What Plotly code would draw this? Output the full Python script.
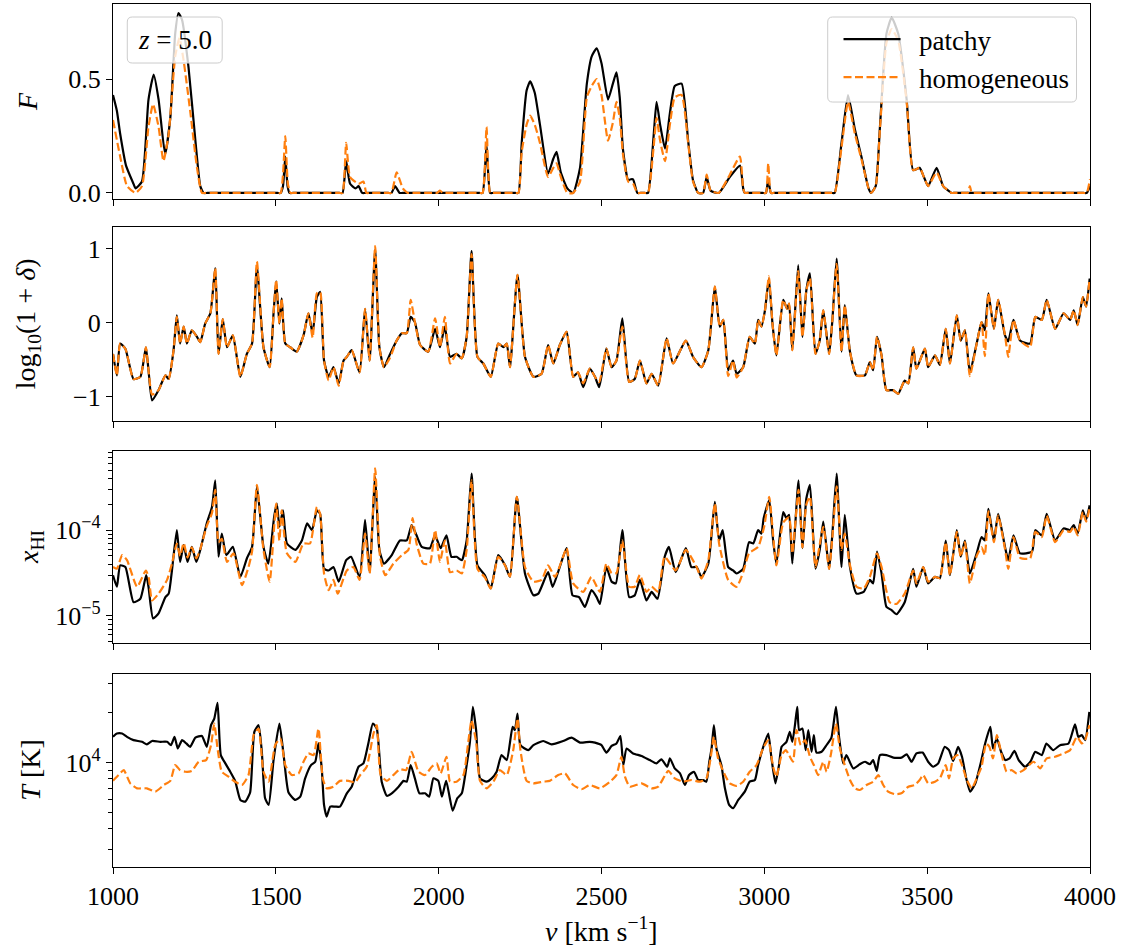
import plotly.graph_objects as go

# ---------------- data ----------------
# Panel 1: transmitted flux F
v_F_patchy = [1000,1012,1022,1040,1063,1069,1089,1109,1125,1140,1160,1176,1191,1201,1212,1232,1253,1268,1278,1290,
              1505,1515,1522,1529,1536,1542,1552,1695,1705,1716,1728,1745,1754,1765,1775,1845,1855,1866,1880,1890,
              2125,2135,2147,2158,2168,
              2235,2245,2255,2270,2281,2295,2311,2336,2352,2362,2375,2395,2413,2434,2455,2470,2485,2500,2520,2535,2546,
              2556,2566,2582,2590,2597,2610,2620,2633,2643,2660,2669,2680,2695,2710,2725,2746,2766,2781,2797,2812,2823,2835,
              2860,2894,2925,2935,2940,2950,2995,3005,3012,3020,3030,3206,3216,3237,3257,3278,3298,3320,3328,3342,3355,3375,3391,3411,
              3437,3457,3477,3490,3503,3529,3549,3575,3585,3980,3990,4000]
F_patchy = [0.43,0.36,0.26,0.12,0.04,0.02,0.05,0.41,0.52,0.41,0.17,0.33,0.70,0.79,0.76,0.55,0.23,0.03,0.0,0.0,
            0.0,0.0,0.03,0.16,0.03,0.0,0.0,0.0,0.0,0.14,0.04,0.02,0.03,0.0,0.0,0.0,0.0,0.03,0.0,0.0,
            0.0,0.0,0.21,0.0,0.0,
            0.0,0.0,0.22,0.45,0.49,0.44,0.30,0.085,0.15,0.18,0.09,0.02,0.0,0.11,0.48,0.60,0.635,0.57,0.41,0.48,0.53,
            0.42,0.19,0.056,0.06,0.06,0.0,0.0,0.0,0.0,0.25,0.40,0.30,0.195,0.35,0.47,0.48,0.23,0.056,0.0,0.0,0.07,0.01,
            0.0,0.07,0.12,0.02,0.0,0.0,0.0,0.0,0.06,0.0,0.0,0.0,0.0,0.22,0.43,0.28,0.16,0.02,0.0,0.03,0.29,0.70,0.77,0.70,
            0.41,0.10,0.11,0.07,0.03,0.11,0.03,0.0,0.0,0.0,0.0,0.03]
v_F_homog = [1000,1022,1043,1069,1089,1109,1123,1140,1155,1171,1191,1204,1217,1237,1258,1273,1285,
             1505,1515,1522,1529,1537,1545,1555,1695,1705,1716,1728,1754,1769,1778,1788,1845,1855,1871,1890,1905,1915,
             1985,1995,2004,2012,2022,2125,2135,2147,2158,2168,
             2235,2245,2255,2270,2281,2295,2311,2336,2352,2362,2375,2395,2413,2434,2455,2470,2485,2500,2520,2535,2546,
             2556,2566,2582,2597,2610,2620,2633,2643,2660,2669,2680,2695,2710,2725,2746,2766,2781,2797,2812,2823,2835,
             2860,2894,2925,2935,2940,2950,2995,3005,3012,3020,3030,3206,3216,3237,3257,3278,3298,3320,3328,3342,3355,3375,3391,3411,
             3437,3457,3477,3490,3503,3529,3549,3575,3585,3618,3625,3631,3637,3645,3980,3990,4000]
F_homog = [0.32,0.16,0.03,0.0,0.03,0.29,0.39,0.29,0.14,0.26,0.60,0.68,0.58,0.36,0.11,0.0,0.0,
           0.0,0.0,0.08,0.25,0.04,0.0,0.0,0.0,0.0,0.22,0.07,0.04,0.05,0.0,0.0,0.0,0.0,0.09,0.02,0.0,0.0,
           0.0,0.0,0.01,0.0,0.0,0.0,0.0,0.29,0.0,0.0,
           0.0,0.0,0.18,0.30,0.34,0.30,0.22,0.07,0.11,0.13,0.07,0.0,0.0,0.05,0.42,0.47,0.50,0.43,0.23,0.31,0.40,
           0.33,0.17,0.05,0.04,0.0,0.0,0.0,0.0,0.20,0.33,0.23,0.14,0.30,0.42,0.43,0.22,0.05,0.0,0.0,0.08,0.01,
           0.0,0.08,0.16,0.02,0.0,0.0,0.0,0.0,0.13,0.0,0.0,0.0,0.0,0.20,0.40,0.26,0.15,0.02,0.0,0.03,0.28,0.66,0.72,0.67,
           0.40,0.10,0.11,0.07,0.03,0.09,0.03,0.0,0.0,0.0,0.0,0.03,0.0,0.0,0.0,0.0,0.06]

# Panel 2: log10(1+delta)
v_delta = [1000,1012,1022,1038,1063,1084,1101,1109,1120,1140,1161,1171,1186,1196,1206,1217,1227,1242,1258,1268,
           1283,1299,1314,1324,1337,1350,1368,1391,1411,1427,1442,1462,1481,1493,1501,1511,1518,1529,1544,1564,
           1585,1600,1613,1626,1636,1648,1662,1677,1693,1708,1718,1733,1757,1774,1788,1805,1818,1832,1851,1871,
           1887,1902,1914,1927,1943,1968,1989,2004,2019,2035,2055,2071,2086,2101,2119,2137,2160,2183,2199,2209,
           2219,2242,2265,2291,2316,2336,2352,2372,2393,2413,2428,2444,2464,2480,2493,2515,2531,2546,2564,2585,
           2602,2618,2638,2654,2674,2700,2720,2759,2781,2807,2828,2848,2863,2874,2889,2904,2915,2935,2955,2971,
           2981,2991,3002,3014,3025,3037,3058,3070,3076,3086,3104,3117,3129,3140,3157,3170,3181,3199,3209,3222,
           3237,3247,3263,3283,3309,3324,3334,3346,3360,3375,3395,3411,3431,3442,3457,3467,3493,3503,3524,3539,
           3557,3570,3591,3603,3616,3631,3652,3667,3677,3688,3705,3718,3739,3749,3765,3785,3816,3832,3852,3867,
           3893,3919,3939,3950,3962,3978,3988,3999]
delta_patchy = [-0.42,-0.71,-0.28,-0.35,-0.76,-0.73,-0.33,-0.64,-1.05,-0.91,-0.71,-0.76,-0.37,0.10,-0.28,-0.05,-0.28,-0.10,-0.19,-0.26,
                -0.01,0.13,0.74,-0.42,0.05,-0.33,-0.17,-0.73,-0.42,-0.28,0.76,-0.33,-0.60,0.13,0.56,-0.01,0.33,-0.28,-0.33,-0.39,
                -0.17,0.13,-0.14,0.35,0.42,-0.51,-0.73,-0.60,-0.82,-0.51,-0.46,-0.37,-0.67,0.19,-0.51,0.99,-0.33,-0.60,-0.42,-0.24,
                -0.14,-0.14,0.08,0.01,-0.30,-0.39,-0.08,-0.33,-0.05,-0.46,-0.42,-0.48,-0.19,0.97,-0.46,-0.55,-0.73,-0.28,-0.33,-0.28,
                -0.60,0.65,-0.46,-0.73,-0.69,-0.30,-0.55,-0.30,-0.12,-0.73,-0.67,-0.87,-0.62,-0.73,-0.87,-0.35,-0.60,-0.51,0.06,-0.80,
                -0.76,-0.51,-0.82,-0.69,-0.85,-0.21,-0.55,-0.24,-0.46,-0.60,-0.37,0.49,-0.05,0.04,-0.64,-0.51,-0.69,-0.60,-0.19,-0.28,
                0.04,-0.05,0.17,0.60,-0.01,-0.44,0.31,0.19,0.26,-0.37,0.78,-0.19,0.44,0.67,-0.42,-0.24,0.17,-0.42,0.04,0.87,
                -0.39,0.24,-0.39,-0.71,-0.71,-0.53,-0.64,-0.19,-0.44,-0.91,-0.91,-0.96,-0.78,-0.82,-0.33,-0.62,-0.35,-0.60,-0.44,-0.57,
                -0.08,-0.55,0.10,-0.24,-0.10,-0.67,-0.28,0.01,-0.10,0.40,-0.08,0.31,-0.17,-0.25,0.04,-0.24,-0.28,0.08,0.04,0.31,
                -0.08,0.13,0.04,0.17,-0.03,0.35,0.22,0.60]
delta_homog = [-0.42,-0.71,-0.28,-0.35,-0.76,-0.73,-0.33,-0.64,-0.97,-0.91,-0.71,-0.76,-0.37,0.08,-0.28,-0.05,-0.28,-0.10,-0.19,-0.26,
               -0.01,0.13,0.74,-0.42,0.05,-0.33,-0.17,-0.73,-0.42,-0.28,0.83,-0.33,-0.60,0.13,0.58,-0.01,0.33,-0.28,-0.33,-0.39,
               -0.17,0.13,-0.20,0.40,0.42,-0.51,-0.78,-0.60,-0.85,-0.51,-0.46,-0.37,-0.67,0.19,-0.51,1.04,-0.33,-0.60,-0.47,-0.24,
               -0.14,-0.14,0.31,0.01,-0.30,-0.39,0.06,-0.33,0.08,-0.55,-0.42,-0.48,-0.19,0.93,-0.46,-0.55,-0.73,-0.28,-0.33,-0.28,
               -0.60,0.65,-0.46,-0.73,-0.69,-0.30,-0.55,-0.30,-0.12,-0.73,-0.67,-0.82,-0.62,-0.73,-0.80,-0.35,-0.60,-0.51,-0.05,-0.80,
               -0.76,-0.51,-0.82,-0.69,-0.85,-0.21,-0.55,-0.24,-0.46,-0.60,-0.37,0.49,-0.05,0.04,-0.72,-0.51,-0.74,-0.60,-0.19,-0.28,
               0.04,-0.05,0.17,0.63,-0.01,-0.44,0.31,0.19,0.26,-0.37,0.70,-0.19,0.44,0.60,-0.42,-0.24,0.17,-0.42,0.04,0.80,
               -0.39,0.24,-0.39,-0.71,-0.71,-0.53,-0.64,-0.19,-0.44,-0.91,-0.91,-0.96,-0.78,-0.82,-0.33,-0.62,-0.35,-0.60,-0.44,-0.57,
               -0.08,-0.55,0.10,-0.24,-0.10,-0.72,-0.28,0.01,-0.45,0.40,-0.08,0.31,-0.17,-0.46,0.04,-0.24,-0.33,0.08,0.04,0.31,
               -0.08,0.13,0.04,0.17,-0.03,0.35,0.22,0.60]

# Panel 3: neutral fraction x_HI (stored as log10 values)
v_xHI_patchy = [1000,1012,1022,1038,1063,1084,1102,1109,1123,1140,1161,1171,1181,1196,1206,1217,1229,1242,1256,1268,
                1288,1304,1314,1324,1334,1348,1368,1391,1411,1427,1442,1462,1477,1495,1503,1511,1522,1534,1560,1580,
                1596,1611,1626,1636,1648,1662,1677,1693,1716,1731,1757,1774,1788,1805,1818,1832,1856,1881,1902,1917,
                1932,1948,1973,1989,2006,2024,2039,2055,2071,2086,2101,2119,2142,2160,2183,2204,2219,2240,2265,2291,
                2306,2336,2350,2370,2393,2411,2431,2449,2469,2485,2495,2515,2531,2544,2564,2585,2602,2618,2638,2654,
                2672,2694,2707,2728,2759,2776,2792,2807,2828,2848,2861,2872,2889,2904,2915,2935,2953,2966,2981,2991,
                2998,3015,3027,3037,3058,3068,3076,3086,3105,3117,3129,3140,3157,3170,3181,3199,3209,3222,3237,3247,
                3263,3283,3305,3324,3334,3346,3360,3375,3390,3406,3431,3457,3467,3488,3503,3524,3539,3557,3570,3591,
                3603,3616,3631,3652,3667,3677,3688,3705,3718,3739,3749,3765,3785,3822,3832,3852,3867,3893,3919,3939,
                3950,3962,3978,3988,3999]
log_xHI_patchy = [-4.525,-4.66,-4.41,-4.43,-4.84,-4.80,-4.525,-4.66,-5.03,-4.97,-4.78,-4.74,-4.47,-4.00,-4.37,-4.175,-4.37,-4.195,-4.37,-4.23,
                  -3.92,-3.73,-3.42,-4.31,-4.04,-4.29,-4.195,-4.545,-4.33,-4.195,-3.49,-4.195,-4.39,-3.84,-3.69,-3.96,-3.77,-4.155,-4.23,-4.12,
                  -3.92,-4.00,-3.77,-3.81,-4.45,-4.47,-4.43,-4.60,-4.35,-4.31,-4.545,-3.88,-4.49,-3.38,-4.23,-4.39,-4.29,-4.12,-4.12,-3.94,
                  -4.06,-4.195,-4.21,-4.06,-4.21,-4.06,-4.31,-4.31,-4.35,-4.12,-3.34,-4.41,-4.525,-4.68,-4.29,-4.41,-4.545,-3.61,-4.505,-4.76,
                  -4.74,-4.49,-4.66,-4.45,-4.21,-4.76,-4.78,-4.895,-4.70,-4.78,-4.86,-4.43,-4.60,-4.62,-4.00,-4.78,-4.76,-4.58,-4.82,-4.72,
                  -4.80,-4.31,-4.195,-4.49,-4.21,-4.43,-4.43,-4.545,-4.39,-3.67,-4.12,-4.00,-4.43,-4.47,-4.505,-4.45,-4.14,-4.155,-4.00,-4.04,
                  -3.86,-3.65,-4.12,-4.39,-3.79,-3.86,-3.82,-4.39,-3.42,-4.21,-3.63,-3.47,-4.45,-4.23,-3.90,-4.45,-4.04,-3.34,-4.43,-3.82,
                  -4.43,-4.74,-4.72,-4.58,-4.62,-4.25,-4.505,-4.895,-4.93,-4.98,-4.84,-4.45,-4.66,-4.43,-4.62,-4.545,-4.56,-4.12,-4.525,-4.00,
                  -4.31,-4.12,-4.505,-4.27,-4.08,-4.12,-3.75,-4.12,-3.81,-4.195,-4.35,-4.06,-4.27,-4.25,-4.00,-4.06,-3.81,-4.12,-3.98,-4.00,
                  -3.94,-4.04,-3.77,-3.88,-3.71]
v_xHI_homog = [1000,1012,1028,1043,1074,1101,1110,1120,1140,1166,1181,1196,1206,1217,1229,1242,1256,1268,1288,1304,
               1314,1324,1334,1350,1370,1396,1416,1427,1442,1462,1481,1495,1501,1511,1518,1534,1560,1585,1605,1626,
               1636,1648,1662,1677,1690,1718,1738,1757,1774,1788,1805,1820,1836,1861,1887,1907,1920,1932,1953,1973,
               1989,2004,2019,2035,2055,2071,2086,2101,2119,2142,2160,2183,2204,2219,2240,2265,2291,2316,2336,2357,
               2382,2393,2413,2444,2469,2495,2515,2531,2546,2564,2585,2602,2618,2638,2654,2674,2694,2728,2759,2792,
               2807,2828,2848,2861,2889,2915,2935,2953,2981,3000,3015,3037,3058,3076,3086,3105,3117,3129,3140,3157,
               3181,3199,3209,3222,3237,3247,3263,3283,3305,3324,3346,3360,3385,3406,3431,3457,3467,3488,3503,3524,
               3539,3557,3570,3591,3603,3616,3631,3652,3667,3677,3688,3705,3718,3739,3749,3765,3785,3816,3832,3852,
               3867,3893,3919,3939,3950,3962,3978,3988,3999]
log_xHI_homog = [-4.43,-4.45,-4.29,-4.35,-4.66,-4.47,-4.56,-4.82,-4.74,-4.58,-4.39,-4.155,-4.30,-4.15,-4.32,-4.20,-4.33,-4.22,-3.95,-3.80,
                 -3.53,-4.14,-4.10,-4.37,-4.27,-4.64,-4.43,-4.25,-3.47,-4.23,-4.60,-3.95,-3.69,-4.12,-3.77,-4.27,-4.37,-4.155,-4.155,-3.73,
                 -3.81,-4.505,-4.70,-4.58,-4.74,-4.47,-4.43,-4.58,-4.04,-4.505,-3.28,-4.31,-4.525,-4.39,-4.29,-4.23,-3.86,-4.155,-4.39,-4.39,
                 -4.00,-4.37,-4.12,-4.49,-4.47,-4.505,-4.23,-3.42,-4.45,-4.55,-4.68,-4.31,-4.41,-4.54,-3.61,-4.43,-4.60,-4.58,-4.41,-4.545,
                 -4.31,-4.21,-4.62,-4.72,-4.545,-4.72,-4.39,-4.50,-4.50,-4.12,-4.66,-4.66,-4.52,-4.72,-4.66,-4.72,-4.31,-4.47,-4.23,-4.43,
                 -4.565,-4.35,-3.69,-4.155,-4.58,-4.66,-4.49,-4.27,-4.195,-3.95,-3.61,-4.41,-3.91,-3.85,-4.27,-3.53,-4.20,-3.70,-3.61,-4.43,
                 -3.96,-4.45,-4.08,-3.49,-4.23,-4.04,-4.41,-4.66,-4.68,-4.545,-4.27,-4.43,-4.84,-4.86,-4.74,-4.47,-4.62,-4.43,-4.60,-4.545,
                 -4.56,-4.14,-4.525,-4.02,-4.31,-4.14,-4.62,-4.30,-4.20,-4.29,-3.78,-4.14,-3.83,-4.22,-4.45,-4.08,-4.32,-4.33,-4.02,-4.08,
                 -3.83,-4.14,-4.00,-4.02,-3.96,-4.06,-3.79,-3.90,-3.74]

# Panel 4: temperature T [K] (stored as log10 values)
v_T_patchy = [1000,1012,1028,1043,1063,1089,1104,1120,1145,1166,1178,1189,1199,1212,1225,1237,1253,1273,1288,1301,
              1311,1321,1331,1345,1360,1375,1391,1406,1421,1434,1447,1457,1467,1478,1493,1511,1524,1539,1560,1575,
              1590,1608,1621,1631,1641,1648,1656,1667,1682,1697,1718,1733,1754,1769,1784,1798,1810,1825,1841,1856,
              1877,1892,1902,1914,1927,1941,1958,1971,1984,1999,2010,2023,2043,2057,2071,2086,2096,2105,2115,2127,
              2147,2163,2178,2193,2209,2227,2234,2242,2251,2275,2291,2321,2347,2382,2408,2434,2464,2480,2500,2515,
              2531,2546,2558,2567,2577,2597,2623,2648,2669,2684,2702,2710,2725,2741,2756,2769,2784,2797,2812,2822,
              2831,2838,2845,2853,2868,2879,2892,2904,2920,2940,2955,2971,2981,2996,3012,3022,3034,3045,3053,3068,
              3078,3086,3094,3101,3107,3117,3127,3135,3145,3152,3160,3176,3191,3206,3220,3230,3242,3252,3273,3293,
              3309,3324,3334,3345,3355,3375,3396,3421,3437,3452,3467,3486,3503,3519,3534,3554,3567,3580,3595,3607,
              3620,3632,3648,3663,3678,3694,3702,3714,3727,3740,3753,3768,3781,3801,3817,3832,3852,3866,3887,3908,
              3934,3954,3964,3975,3985,3998]
log_T_patchy = [4.155,4.175,4.175,4.155,4.135,4.125,4.11,4.13,4.125,4.125,4.105,4.155,4.085,4.135,4.115,4.095,4.15,4.16,4.095,4.225,
                4.265,4.36,4.045,3.995,3.945,3.89,3.775,3.765,3.82,4.185,4.225,4.065,3.785,3.745,4.015,4.235,4.045,3.82,3.775,3.795,
                3.905,3.985,4.005,4.115,3.965,3.745,3.675,3.735,3.735,3.735,3.815,3.855,3.975,3.995,4.115,4.235,4.205,3.885,3.80,3.815,
                3.855,3.89,3.885,3.985,3.905,3.815,3.815,3.795,3.905,3.89,3.795,3.89,3.71,3.785,3.815,3.985,4.125,4.335,4.195,3.905,
                3.885,3.905,3.945,4.045,4.015,4.215,4.195,4.295,4.105,4.075,4.105,4.13,4.11,4.13,4.15,4.12,4.125,4.12,4.105,4.06,
                4.10,4.115,4.16,3.985,4.085,4.055,4.04,4.015,3.995,4.02,3.975,4.025,3.965,3.935,3.865,3.925,3.945,3.895,3.895,3.885,
                4.005,4.085,4.225,4.085,3.985,3.845,3.745,3.725,3.775,3.825,3.885,3.895,3.985,4.09,4.175,4.025,3.875,3.985,4.095,4.125,
                4.185,4.125,4.225,4.335,4.195,4.205,4.075,4.195,4.065,4.165,4.06,4.065,4.105,4.15,4.335,4.145,3.995,4.045,3.965,3.99,
                4.005,3.99,4.015,3.95,4.045,4.045,4.03,4.03,4.05,4.005,4.055,4.06,4.005,3.975,3.995,4.095,4.075,4.01,4.095,4.035,
                3.905,3.825,3.875,3.985,4.115,4.215,4.085,4.145,4.065,4.015,4.025,4.07,4.015,3.975,4.005,4.065,4.045,4.115,4.075,4.105,
                4.115,4.23,4.155,4.165,4.135,4.305]
v_T_homog = [1000,1017,1033,1053,1074,1104,1130,1156,1176,1191,1206,1222,1242,1263,1286,1301,1311,1321,1334,1355,
             1375,1396,1416,1432,1447,1462,1478,1498,1514,1529,1549,1570,1585,1600,1616,1631,1644,1656,1677,1697,
             1723,1743,1759,1779,1800,1810,1822,1841,1861,1881,1900,1917,1938,1958,1979,1994,2006,2024,2035,2055,
             2076,2091,2101,2115,2127,2147,2168,2188,2209,2229,2242,2251,2270,2291,2321,2341,2367,2388,2413,2439,
             2464,2495,2526,2546,2561,2572,2587,2623,2654,2674,2705,2725,2751,2776,2802,2822,2835,2845,2858,2879,
             2894,2915,2935,2955,2976,2996,3012,3027,3037,3053,3066,3076,3088,3099,3112,3125,3140,3152,3165,3181,
             3191,3204,3220,3232,3247,3263,3278,3293,3314,3334,3350,3365,3380,3401,3421,3442,3462,3477,3488,3503,
             3524,3539,3557,3567,3580,3593,3607,3622,3637,3652,3667,3681,3691,3702,3714,3729,3744,3759,3775,3796,
             3827,3847,3867,3893,3919,3939,3960,3975,3985,3998]
log_T_homog = [3.89,3.925,3.955,3.875,3.845,3.845,3.825,3.865,3.89,3.985,3.955,3.945,3.95,4.005,4.015,4.105,4.235,4.085,3.945,3.915,
               3.885,3.865,3.925,4.165,4.205,3.945,3.885,4.105,4.145,3.985,3.925,3.935,4.005,4.055,4.045,4.205,3.905,3.845,3.855,3.89,
               3.89,3.88,3.925,3.975,4.175,4.225,3.925,3.89,3.925,3.96,3.955,4.065,3.945,3.925,3.975,3.995,3.935,4.035,3.885,3.885,
               3.925,4.125,4.255,4.125,3.89,3.845,3.885,3.955,3.925,4.075,4.265,4.075,3.89,3.875,3.885,3.89,3.925,3.935,3.865,3.84,
               3.865,3.845,3.885,3.925,4.035,3.915,3.855,3.875,3.845,3.855,3.95,3.905,3.885,3.895,3.885,3.905,4.025,4.155,4.025,3.925,
               3.875,3.86,3.885,3.945,3.985,4.085,4.135,3.975,3.915,4.045,4.075,4.045,4.005,4.195,4.105,4.135,4.035,3.985,3.925,4.005,
               3.945,4.045,4.235,4.085,3.985,3.895,3.845,3.835,3.865,3.885,3.925,3.865,3.825,3.81,3.815,3.855,3.865,3.895,3.925,3.875,
               3.885,3.905,3.985,3.905,4.025,4.045,3.985,3.895,3.845,3.905,3.975,4.115,4.095,4.025,4.165,4.045,3.945,3.955,3.935,3.955,
               4.005,3.965,4.025,4.035,4.055,4.075,4.155,4.115,4.135,4.225]

labels = ["patchy", "homogeneous"]
x_ticks = [1000, 1500, 2000, 2500, 3000, 3500, 4000]
F_ticks = [0.0, 0.5]
delta_ticks = [-1, 0, 1]
redshift_label = "<i>z</i> = 5.0"

# ---------------- figure ----------------
FONT = "Liberation Serif"
FS = 26
TFS = 28
BLACK = "black"
ORANGE = "#ff7f0e"

xHI_patchy = [10 ** v for v in log_xHI_patchy]
xHI_homog = [10 ** v for v in log_xHI_homog]
T_patchy = [10 ** v for v in log_T_patchy]
T_homog = [10 ** v for v in log_T_homog]

fig = go.Figure()

panels = [
    (v_F_patchy, F_patchy, v_F_homog, F_homog, "y"),
    (v_delta, delta_patchy, v_delta, delta_homog, "y2"),
    (v_xHI_patchy, xHI_patchy, v_xHI_homog, xHI_homog, "y3"),
    (v_T_patchy, T_patchy, v_T_homog, T_homog, "y4"),
]
for i, (vp, yp, vh, yh, ya) in enumerate(panels):
    xa = "x" if i == 0 else "x%d" % (i + 1)
    fig.add_trace(go.Scatter(x=vp, y=yp, mode="lines", xaxis=xa, yaxis=ya,
                             line=dict(color=BLACK, width=2.2, shape="spline", smoothing=0.5),
                             name="\u2002" + labels[0], showlegend=(i == 0)))
    fig.add_trace(go.Scatter(x=vh, y=yh, mode="lines", xaxis=xa, yaxis=ya,
                             line=dict(color=ORANGE, width=2.2, dash="8px,3.5px", shape="spline", smoothing=0.5),
                             name="\u2002" + labels[1], showlegend=(i == 0)))

# pixel geometry
L, R, T, B = 112.7, 1090.5, 4, 866.7
W, H = 1132, 950
ph = B - T
pw = R - L
def ydom(top, bot):
    return [(B - bot) / ph, (B - top) / ph]

doms = [ydom(4, 199), ydom(226.7, 421), ydom(450.7, 642.3), ydom(673.3, 866.7)]

axis_common = dict(showline=True, linecolor="black", linewidth=1.3, mirror=True,
                   ticks="outside", ticklen=6, tickwidth=1.3, tickcolor="black",
                   showgrid=False, zeroline=False,
                   tickfont=dict(family=FONT, size=FS, color="black"))

for i in range(4):
    key = "xaxis" if i == 0 else "xaxis%d" % (i + 1)
    fig.layout[key] = dict(axis_common, range=[1000, 4000], tickvals=x_ticks,
                           showticklabels=(i == 3), anchor="y" if i == 0 else "y%d" % (i + 1),
                           matches=None if i == 0 else "x")

fig.layout.yaxis = dict(axis_common, domain=doms[0], range=[-0.027, 0.83], tickvals=F_ticks,
                        ticktext=["0.0", "0.5"], anchor="x")
fig.layout.yaxis2 = dict(axis_common, domain=doms[1], range=[-1.33, 1.30], tickvals=delta_ticks,
                         ticktext=["\u22121", "0", "1"], anchor="x2")
minor_x = [k * 1e-6 for k in range(5, 10)] + [k * 1e-5 for k in range(2, 10)] + [k * 1e-4 for k in range(2, 9)]
fig.layout.yaxis3 = dict(axis_common, domain=doms[2], type="log", range=[-5.31, -3.075],
                         tickvals=[1e-5, 1e-4], ticktext=["10<sup>\u22125</sup>", "10<sup>\u22124</sup>"],
                         minor=dict(tickvals=minor_x, ticks="outside", ticklen=3.5, tickwidth=1, tickcolor="black"),
                         anchor="x3")
minor_T = [3000, 4000, 5000, 6000, 7000, 8000, 9000, 20000, 30000]
fig.layout.yaxis4 = dict(axis_common, domain=doms[3], type="log", range=[3.3715, 4.536],
                         tickvals=[1e4], ticktext=["10<sup>4</sup>"],
                         minor=dict(tickvals=minor_T, ticks="outside", ticklen=3.5, tickwidth=1, tickcolor="black"),
                         anchor="x4")

def px2paper_x(px):
    return (px - L) / pw

def px2paper_y(py):
    return (B - py) / ph

def rounded_box(x0, y0, x1, y1, r=5):
    # pixel box -> paper-coordinate rounded rectangle path
    X0, X1 = px2paper_x(x0), px2paper_x(x1)
    Yt, Yb = px2paper_y(y0), px2paper_y(y1)
    rx, ry = r / pw, r / ph
    return (f"M{X0+rx},{Yt} L{X1-rx},{Yt} Q{X1},{Yt} {X1},{Yt-ry} "
            f"L{X1},{Yb+ry} Q{X1},{Yb} {X1-rx},{Yb} L{X0+rx},{Yb} Q{X0},{Yb} {X0},{Yb+ry} "
            f"L{X0},{Yt-ry} Q{X0},{Yt} {X0+rx},{Yt} Z")

shapes = [
    dict(type="path", xref="paper", yref="paper", path=rounded_box(127, 17, 222, 63), layer="above",
         fillcolor="rgba(255,255,255,0.8)", line=dict(color="#cccccc", width=1)),
    dict(type="path", xref="paper", yref="paper", path=rounded_box(828, 17, 1077, 102), layer="above",
         fillcolor="rgba(255,255,255,0.8)", line=dict(color="#cccccc", width=1)),
]

annotations = []
ytitles = ["<i>F</i>", "log<sub>10</sub>(1 + <i>\u03b4</i>)", "<i>x</i><sub>HI</sub>", "<i>T</i> [K]"]
ytitle_x = [27, 28, 30, 30]
for i, t in enumerate(ytitles):
    yref = "y domain" if i == 0 else "y%d domain" % (i + 1)
    annotations.append(dict(text=t, xref="paper", yref=yref, x=px2paper_x(ytitle_x[i]), y=0.5,
                            xanchor="center", yanchor="middle", textangle=-90, showarrow=False,
                            font=dict(family=FONT, size=TFS, color="black")))
annotations.append(dict(text="<i>v</i> [km s<sup>\u22121</sup>]", xref="paper", yref="paper",
                        x=0.5, y=px2paper_y(929), xanchor="center", yanchor="middle", showarrow=False,
                        font=dict(family=FONT, size=TFS, color="black")))
annotations.append(dict(text=redshift_label, xref="paper", yref="paper",
                        x=px2paper_x(174.5), y=px2paper_y(40), xanchor="center", yanchor="middle", showarrow=False,
                        font=dict(family=FONT, size=FS + 1, color="black")))

fig.update_layout(
    width=W, height=H,
    margin=dict(l=L, r=W - R, t=T, b=H - B, pad=0),
    paper_bgcolor="white", plot_bgcolor="white",
    font=dict(family=FONT, size=FS, color="black"),
    annotations=annotations,
    shapes=shapes,
    legend=dict(x=px2paper_x(1075), y=px2paper_y(15), xanchor="right", yanchor="top",
                bgcolor="rgba(0,0,0,0)", borderwidth=0,
                font=dict(family=FONT, size=FS + 1, color="black"), itemwidth=57,
                tracegroupgap=0),
    showlegend=True,
)

fig.write_html("out.html")
